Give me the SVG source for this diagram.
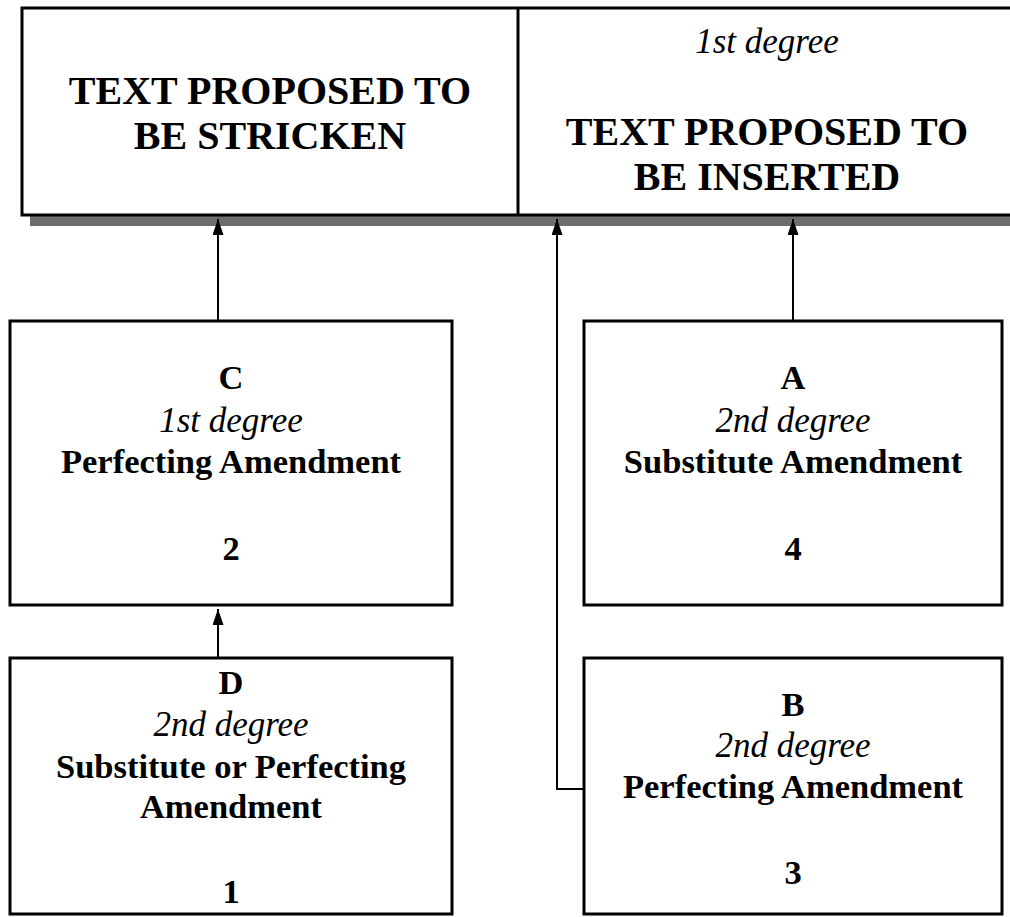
<svg xmlns="http://www.w3.org/2000/svg" width="1010" height="917" viewBox="0 0 1010 917">
<defs>
<style>
.box{fill:#fff;stroke:#000;stroke-width:3}
.t{font-family:"Liberation Serif","Times New Roman",serif;font-weight:bold;text-anchor:middle;fill:#000}
.big{font-size:40px}
.m{font-size:34.5px}
.i{font-style:italic;font-weight:normal;font-size:35px}
.c{fill:none;stroke:#000;stroke-width:2}
</style>
<marker id="ah" viewBox="0 0 16 11" refX="16" refY="5.5" markerWidth="16" markerHeight="11" markerUnits="userSpaceOnUse" orient="auto">
<path d="M0,0 L16,5.5 L0,11 Z" fill="#000"/>
</marker>
</defs>
<rect width="1010" height="917" fill="#fff"/>
<g id="top">
<rect x="30" y="214" width="990" height="12" fill="#6e6e6e"/>
<rect class="box" x="22" y="8" width="1000" height="207"/>
<line x1="518" y1="8" x2="518" y2="215" stroke="#000" stroke-width="3"/>
</g>
<g id="stricken">
<text class="t big" x="270" y="104">TEXT PROPOSED TO</text>
<text class="t big" x="270" y="149">BE STRICKEN</text>
</g>
<g id="inserted">
<text class="t i" x="767" y="53">1st degree</text>
<text class="t big" x="767" y="145">TEXT PROPOSED TO</text>
<text class="t big" x="767" y="190">BE INSERTED</text>
</g>
<g id="connectors">
<line class="c" x1="218" y1="320" x2="218" y2="219" marker-end="url(#ah)"/>
<line class="c" x1="793" y1="320" x2="793" y2="219" marker-end="url(#ah)"/>
<polyline class="c" points="585,789 557,789 557,219" marker-end="url(#ah)"/>
<line class="c" x1="218" y1="657" x2="218" y2="609" marker-end="url(#ah)"/>
</g>
<g id="nodeC">
<rect class="box" x="10" y="321" width="442" height="284"/>
<text class="t m" x="231" y="389">C</text>
<text class="t i" x="231" y="432">1st degree</text>
<text class="t m" x="231" y="473">Perfecting Amendment</text>
<text class="t m" x="231" y="560">2</text>
</g>
<g id="nodeA">
<rect class="box" x="584" y="321" width="418" height="284"/>
<text class="t m" x="793" y="389">A</text>
<text class="t i" x="793" y="432">2nd degree</text>
<text class="t m" x="793" y="473">Substitute Amendment</text>
<text class="t m" x="793" y="560">4</text>
</g>
<g id="nodeD">
<rect class="box" x="10" y="658" width="442" height="256"/>
<text class="t m" x="231" y="694">D</text>
<text class="t i" x="231" y="736">2nd degree</text>
<text class="t m" x="231" y="778">Substitute or Perfecting</text>
<text class="t m" x="231" y="818">Amendment</text>
<text class="t m" x="231" y="903">1</text>
</g>
<g id="nodeB">
<rect class="box" x="584" y="658" width="418" height="256"/>
<text class="t m" x="793" y="716">B</text>
<text class="t i" x="793" y="757">2nd degree</text>
<text class="t m" x="793" y="798">Perfecting Amendment</text>
<text class="t m" x="793" y="884">3</text>
</g>
</svg>
